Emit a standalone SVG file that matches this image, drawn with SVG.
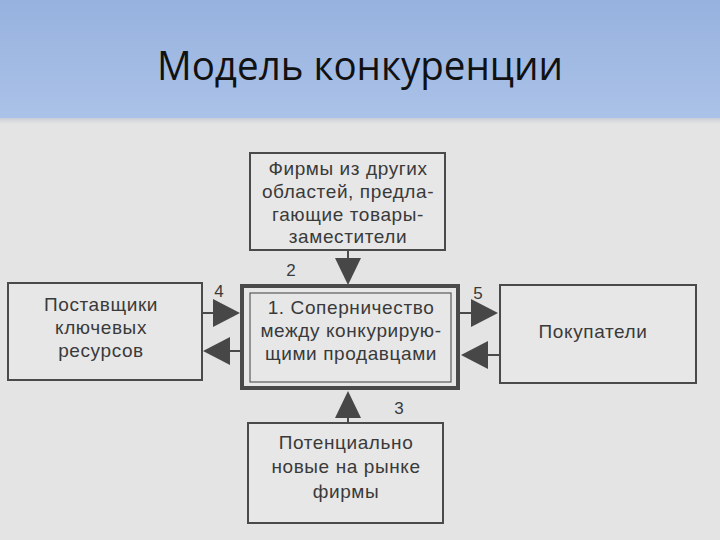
<svg xmlns="http://www.w3.org/2000/svg" width="720" height="540" viewBox="0 0 720 540">
<defs>
<linearGradient id="hdr" x1="0" y1="0" x2="0" y2="1">
<stop offset="0" stop-color="#96b2de"/>
<stop offset="1" stop-color="#abc2e8"/>
</linearGradient>
<linearGradient id="shadow" x1="0" y1="0" x2="0" y2="1">
<stop offset="0" stop-color="#c9cfd6"/>
<stop offset="1" stop-color="#e4e4e4"/>
</linearGradient>
</defs>
<style>
.box{fill:#e7e7e7;stroke:#4a4a4a;stroke-width:2}
.t{font-family:"Liberation Sans",Arial,sans-serif;font-size:19px;letter-spacing:0.6px;fill:#3a3a3a;text-anchor:middle}
.n{font-family:"Liberation Sans",Arial,sans-serif;font-size:17px;fill:#3a3a3a;text-anchor:middle}
.ln{stroke:#4a4a4a;stroke-width:2;fill:none}
.hd{fill:#474747}
</style>
<rect x="0" y="0" width="720" height="540" fill="#e4e4e4"/>
<rect x="0" y="0" width="720" height="118" fill="url(#hdr)"/>
<rect x="0" y="118" width="720" height="6" fill="url(#shadow)"/>
<text x="360" y="80" font-family="'Open Sans','Noto Sans',sans-serif" font-size="40" fill="#111" text-anchor="middle" textLength="406" lengthAdjust="spacingAndGlyphs">Модель конкуренции</text>

<g id="connectors">
<line class="ln" x1="348" y1="250" x2="348" y2="262"/>
<polygon class="hd" points="335,258 361,258 348,285"/>
<line class="ln" x1="348" y1="423" x2="348" y2="414"/>
<polygon class="hd" points="335,418 361,418 348,391"/>
<line class="ln" x1="202" y1="313" x2="215" y2="313"/>
<polygon class="hd" points="213,299 213,327 240,313"/>
<line class="ln" x1="242" y1="351" x2="228" y2="351"/>
<polygon class="hd" points="230,337 230,365 203,351"/>
<line class="ln" x1="460" y1="313" x2="472" y2="313"/>
<polygon class="hd" points="471,299 471,327 498,313"/>
<line class="ln" x1="500" y1="355" x2="486" y2="355"/>
<polygon class="hd" points="488,341 488,369 461,355"/>
<text class="n" x="291" y="276">2</text>
<text class="n" x="399" y="414">3</text>
<text class="n" x="219" y="297">4</text>
<text class="n" x="478" y="299">5</text>
</g>

<g id="top">
<rect class="box" x="250" y="153" width="195" height="97"/>
<text class="t" x="348" y="175">Фирмы из других</text>
<text class="t" x="348" y="198">областей, предла-</text>
<text class="t" x="348" y="221">гающие товары-</text>
<text class="t" x="348" y="243">заместители</text>
</g>

<g id="center">
<rect x="242" y="286" width="216" height="102" fill="#e7e7e7" stroke="#4a4a4a" stroke-width="4"/>
<rect x="250" y="293" width="201" height="89" fill="none" stroke="#5a5a5a" stroke-width="1.2"/>
<text class="t" x="351" y="314">1. Соперничество</text>
<text class="t" x="351" y="337">между конкурирую-</text>
<text class="t" x="351" y="360">щими продавцами</text>
</g>

<g id="left">
<rect class="box" x="8" y="283" width="194" height="97"/>
<text class="t" x="101" y="311">Поставщики</text>
<text class="t" x="101" y="334">ключевых</text>
<text class="t" x="101" y="357">ресурсов</text>
</g>

<g id="right">
<rect class="box" x="500" y="285" width="196" height="98"/>
<text class="t" x="593" y="338">Покупатели</text>
</g>

<g id="bottom">
<rect class="box" x="248" y="423" width="195" height="100"/>
<text class="t" x="346" y="449">Потенциально</text>
<text class="t" x="346" y="473">новые на рынке</text>
<text class="t" x="346" y="498">фирмы</text>
</g>
</svg>
